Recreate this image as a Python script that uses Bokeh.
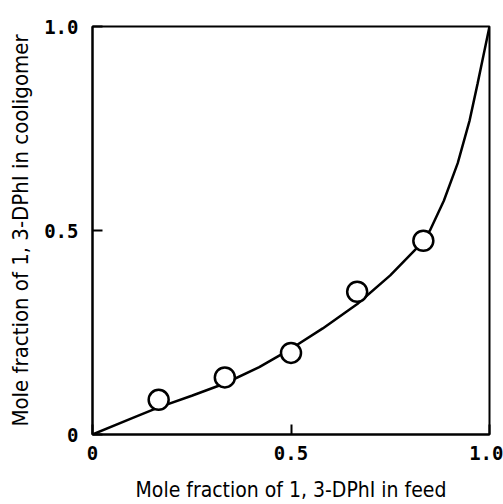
from bokeh.plotting import figure
from bokeh.models import Range1d, FixedTicker
from bokeh.embed import file_html
from bokeh.resources import INLINE

# Experimental points
feed_x = [1/6, 1/3, 0.5, 2/3, 5/6]
coolig_y = [0.085, 0.14, 0.20, 0.35, 0.475]

# Fitted curve
curve_x = [0.0, 0.1, 0.165, 0.25, 0.333, 0.42, 0.5, 0.58, 0.667, 0.75, 0.815, 0.85,
           0.885, 0.92, 0.95, 0.97, 0.985, 1.0]
curve_y = [0.0, 0.04, 0.066, 0.095, 0.125, 0.165, 0.21, 0.26, 0.32, 0.39, 0.455, 0.50,
           0.573, 0.665, 0.77, 0.86, 0.93, 1.0]

ticks = [0, 0.5, 1.0]
tick_labels = {0: "0", 0.5: "0.5", 1: "1.0"}

p = figure(width=503, height=504, output_backend="svg", toolbar_location=None,
           x_range=Range1d(0, 1), y_range=Range1d(0, 1),
           min_border_left=92, min_border_right=14, min_border_top=26, min_border_bottom=69)

p.xgrid.visible = False
p.ygrid.visible = False
p.outline_line_color = "black"
p.outline_line_width = 2
p.background_fill_color = "white"
p.border_fill_color = "white"

for ax in (p.xaxis[0], p.yaxis[0]):
    ax.ticker = FixedTicker(ticks=ticks)
    ax.major_label_overrides = tick_labels
    ax.major_tick_in = 10
    ax.major_tick_out = 0
    ax.minor_tick_line_color = None
    ax.major_tick_line_width = 2
    ax.major_tick_line_color = "black"
    ax.axis_line_color = "black"
    ax.axis_line_width = 2
    ax.major_label_text_font = "DejaVu Sans Mono"
    ax.major_label_text_font_size = "19px"
    ax.major_label_text_font_style = "bold"
    ax.major_label_text_color = "black"
    ax.axis_label_text_font = "DejaVu Sans Condensed"
    ax.axis_label_text_font_style = "normal"
    ax.axis_label_text_color = "black"

p.xaxis.axis_label = "Mole fraction of 1, 3-DPhI in feed"
p.yaxis.axis_label = "Mole fraction of 1, 3-DPhI in cooligomer"
p.xaxis.axis_label_text_font_size = "21px"
p.yaxis.axis_label_text_font_size = "22px"
p.xaxis.major_label_standoff = 11
p.yaxis.major_label_standoff = 14
p.xaxis.axis_label_standoff = 15
p.yaxis.axis_label_standoff = 8

p.line(curve_x, curve_y, line_color="black", line_width=2.5)
p.scatter(feed_x, coolig_y, marker="circle", size=20, fill_color="white",
          line_color="black", line_width=2.5)

open("out.html", "w").write(file_html(p, INLINE))
